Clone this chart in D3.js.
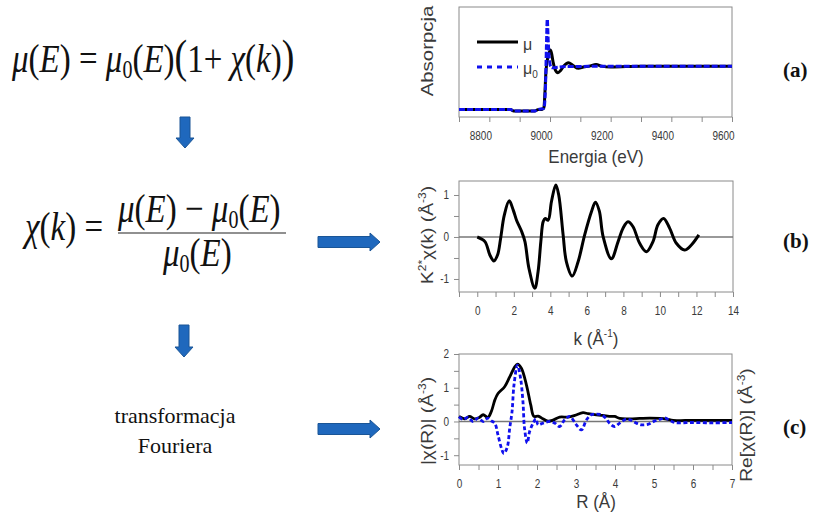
<!DOCTYPE html>
<html>
<head>
<meta charset="utf-8">
<script src="https://cdn.jsdelivr.net/npm/d3@7"></script>
<style>
  body { margin: 0; background: #fff; }
  svg text { font-family: "Liberation Sans", Arial, sans-serif; }
  .serif { font-family: "Liberation Serif", "Times New Roman", serif !important; }
</style>
</head>
<body>
<script>
// (a) absorption spectrum
const energy = [8700, 8800, 8870, 8880, 8950, 8960, 8975, 8980, 8983, 8986, 8989, 8993, 8997, 9001, 9005, 9010, 9017, 9026, 9035, 9045, 9061, 9075, 9094, 9110, 9130, 9152, 9170, 9200, 9300, 9400, 9500, 9600];
const muVals = [0, 0, 0, -0.03, -0.03, 0, 0.01, 0.05, 0.35, 0.8, 1.05, 1.2, 1.3, 1.37, 1.3, 1.1, 0.92, 0.85, 0.9, 1.0, 1.08, 1.02, 0.95, 0.98, 1.0, 1.04, 1.0, 0.98, 1.0, 1.0, 1.0, 1.0];
const energy0 = [8700, 8870, 8880, 8950, 8960, 8980, 8985, 8988, 8991, 8994, 8998, 9003, 9008, 9020, 9050, 9100, 9150, 9200, 9600];
const mu0Vals = [0, 0, -0.03, -0.03, 0, 0.03, 0.5, 1.4, 2.08, 1.6, 1.15, 0.98, 0.96, 0.97, 0.99, 0.99, 1.0, 1.0, 1.0];
const energyTicks = [8800, 9000, 9200, 9400, 9600];

// (b) EXAFS oscillations
const kVals = [0, 0.42, 0.69, 0.91, 1.11, 1.28, 1.48, 1.75, 1.97, 2.15, 2.43, 2.61, 2.83, 3.15, 3.33, 3.48, 3.61, 3.72, 3.88, 4.06, 4.3, 4.46, 4.7, 4.88, 5.2, 5.52, 5.88, 6.25, 6.47, 6.68, 6.89, 7.34, 7.71, 7.98, 8.25, 8.52, 8.89, 9.26, 9.62, 9.89, 10.2, 10.53, 10.9, 11.35, 11.72, 12.13];
const chiVals = [0, -0.11, -0.43, -0.57, -0.43, -0.03, 0.52, 0.86, 0.64, 0.40, 0.13, -0.11, -0.75, -1.22, -0.82, -0.11, 0.37, 0.44, 0.40, 0.84, 1.24, 1.0, 0.05, -0.59, -0.93, -0.59, 0.05, 0.6, 0.83, 0.62, 0.01, -0.52, -0.11, 0.21, 0.36, 0.25, -0.15, -0.35, -0.11, 0.29, 0.44, 0.21, -0.15, -0.31, -0.19, 0.05];
const kTicks = [0, 2, 4, 6, 8, 10, 12, 14];
const chiTicks = [-1, 0, 1];

// (c) Fourier transform
const rMag = [0, 0.15, 0.27, 0.4, 0.52, 0.62, 0.74, 0.83, 0.92, 1.0, 1.17, 1.3, 1.43, 1.5, 1.6, 1.73, 1.84, 1.92, 2.03, 2.15, 2.28, 2.41, 2.58, 2.8, 2.97, 3.18, 3.31, 3.48, 3.69, 3.85, 3.99, 4.12, 4.38, 4.63, 4.89, 5.15, 5.32, 5.49, 5.8, 6.2, 6.6, 7.0];
const magVals = [0.15, 0.08, 0.15, 0.08, 0.12, 0.20, 0.12, 0.30, 0.64, 0.83, 1.03, 1.32, 1.62, 1.70, 1.58, 1.08, 0.49, 0.15, 0.16, 0.08, 0.01, 0.04, 0.13, 0.13, 0.18, 0.26, 0.23, 0.20, 0.18, 0.15, 0.15, 0.09, 0.08, 0.09, 0.10, 0.09, 0.07, 0.03, 0.03, 0.03, 0.03, 0.03];
const rRe = [0, 0.1, 0.23, 0.36, 0.49, 0.62, 0.74, 0.83, 0.92, 1.0, 1.09, 1.15, 1.24, 1.30, 1.36, 1.41, 1.5, 1.58, 1.64, 1.68, 1.75, 1.81, 1.9, 1.97, 2.03, 2.15, 2.33, 2.46, 2.58, 2.71, 2.84, 3.01, 3.14, 3.27, 3.39, 3.52, 3.65, 3.76, 3.86, 3.99, 4.12, 4.29, 4.41, 4.55, 4.68, 4.86, 5.03, 5.2, 5.28, 5.41, 5.53, 6.0, 6.5, 7.0];
const reVals = [0.14, 0.06, 0.12, 0.0, 0.1, 0.0, 0.1, 0.02, -0.06, -0.4, -0.8, -0.95, -0.75, -0.2, 0.29, 1.08, 1.67, 1.27, 0.58, -0.2, -0.64, -0.3, -0.05, 0.08, -0.1, -0.05, 0.0, -0.05, -0.15, 0.05, 0.15, -0.1, -0.25, 0.05, 0.2, 0.22, 0.2, 0.1, -0.05, -0.15, -0.05, 0.07, 0.04, -0.05, -0.1, -0.08, 0.02, 0.08, 0.11, 0.03, -0.03, -0.03, -0.04, -0.03];
const rTicks = [0, 1, 2, 3, 4, 5, 6, 7];
const ftTicks = [-1, 0, 1, 2];

const W = 815, H = 515;
const frameColor = "#8a8a8a", labelColor = "#3a3a3a", blue = "#1010ee";
const arrowFill = "#1f68bd", arrowStroke = "#1a5596";
const stretch = 1.2; // the panel texts look taller than wide

const svg = d3.select("body").append("svg")
  .attr("width", W).attr("height", H);

// ---------- left column: equations and arrows ----------

function mathText(x, y, size, parts) {
  const t = svg.append("text").attr("class", "serif")
    .attr("transform", `translate(${x},${y}) scale(1,1.22)`)
    .attr("font-size", size).attr("fill", "#111");
  parts.forEach(p => {
    const s = t.append("tspan").text(p.t);
    if (p.i) s.attr("font-style", "italic");
    if (p.s) s.attr("font-size", p.s);
    if (p.dy) s.attr("dy", p.dy);
    if (p.dx) s.attr("dx", p.dx);
  });
  return t;
}

// mu(E) = mu0(E)(1 + chi(k))
mathText(12, 72, 33, [
  {t: "μ", i: 1}, {t: "("}, {t: "E", i: 1}, {t: ")"}, {t: " = "},
  {t: "μ", i: 1}, {t: "0", s: 20, dy: 5}, {t: "(", dy: -5}, {t: "E", i: 1}, {t: ")"},
  {t: "(", s: 38}, {t: "1"}, {t: "+ "}, {t: "χ", i: 1}, {t: "("}, {t: "k", i: 1}, {t: ")"}, {t: ")", s: 38}
]);

// chi(k) = (mu - mu0) / mu0
mathText(25, 240, 33, [{t: "χ", i: 1}, {t: "("}, {t: "k", i: 1}, {t: ")"}, {t: " ="}]);
mathText(118, 222, 33, [
  {t: "μ", i: 1}, {t: "("}, {t: "E", i: 1}, {t: ")"}, {t: " − "},
  {t: "μ", i: 1}, {t: "0", s: 20, dy: 5}, {t: "(", dy: -5}, {t: "E", i: 1}, {t: ")"}
]);
svg.append("line").attr("x1", 118).attr("x2", 286).attr("y1", 233).attr("y2", 233)
  .attr("stroke", "#222").attr("stroke-width", 1.2);
mathText(163, 266, 33, [
  {t: "μ", i: 1}, {t: "0", s: 20, dy: 5}, {t: "(", dy: -5}, {t: "E", i: 1}, {t: ")"}
]);

svg.append("text").attr("class", "serif")
  .attr("x", 175).attr("y", 423).attr("text-anchor", "middle")
  .attr("font-size", 22).attr("fill", "#111").text("transformacja");
svg.append("text").attr("class", "serif")
  .attr("x", 175).attr("y", 453).attr("text-anchor", "middle")
  .attr("font-size", 22).attr("fill", "#111").text("Fouriera");

function downArrow(cx, y0, y1) {
  const hw = 9, sw = 5, hy = y1 - 10;
  svg.append("path")
    .attr("d", `M${cx - sw},${y0}L${cx + sw},${y0}L${cx + sw},${hy}L${cx + hw},${hy}L${cx},${y1}L${cx - hw},${hy}L${cx - sw},${hy}Z`)
    .attr("fill", arrowFill).attr("stroke", arrowStroke).attr("stroke-width", 1);
}
function rightArrow(x0, x1, cy) {
  const hh = 9, sh = 5.5, hx = x1 - 10;
  svg.append("path")
    .attr("d", `M${x0},${cy - sh}L${hx},${cy - sh}L${hx},${cy - hh}L${x1},${cy}L${hx},${cy + hh}L${hx},${cy + sh}L${x0},${cy + sh}Z`)
    .attr("fill", arrowFill).attr("stroke", arrowStroke).attr("stroke-width", 1);
}
downArrow(185, 117, 148);
downArrow(184, 325, 357);
rightArrow(318, 380, 242);
rightArrow(318, 380, 429);

// ---------- right column: three panels ----------

function panelFrame(g, w, h) {
  g.append("rect").attr("width", w).attr("height", h)
    .attr("fill", "none").attr("stroke", frameColor).attr("stroke-width", 1);
}

function styleAxis(ax) {
  ax.select(".domain").remove();
  ax.selectAll(".tick line").attr("stroke", frameColor);
  ax.selectAll(".tick text").attr("fill", labelColor).attr("font-size", 10)
    .attr("font-family", "Liberation Sans, Arial, sans-serif")
    .attr("transform", `scale(1,${stretch})`);
}

// rotated axis title, stretched along its length
function yTitle(x, y, size) {
  return svg.append("text")
    .attr("transform", `translate(${x},${y}) rotate(-90) scale(${stretch},1)`)
    .attr("text-anchor", "middle").attr("font-size", size).attr("fill", labelColor);
}
function xTitle(x, y, size) {
  return svg.append("text")
    .attr("transform", `translate(${x},${y}) scale(1,1.1)`)
    .attr("text-anchor", "middle").attr("font-size", size).attr("fill", labelColor);
}
function sup(t, s) {
  t.append("tspan").attr("font-size", 10).attr("dy", -7).text(s);
}

function panelTag(y, tag) {
  svg.append("text").attr("class", "serif")
    .attr("x", 783).attr("y", y).attr("font-size", 21).attr("font-weight", "bold")
    .attr("fill", "#111").text(tag);
}

// (a)
const A = {left: 459, top: 7, w: 273, h: 110};
const gA = svg.append("g").attr("transform", `translate(${A.left},${A.top})`);
const xA = d3.scaleLinear().domain([8700, 9600]).range([0, A.w]);
const yA = d3.scaleLinear().domain([-0.17, 2.36]).range([A.h, 0]);
panelFrame(gA, A.w, A.h);
const axA = gA.append("g").attr("transform", `translate(0,${A.h})`)
  .call(d3.axisBottom(xA).tickValues(d3.range(8700, 9601, 100)).tickSize(5).tickPadding(7)
    .tickFormat(d => energyTicks.includes(d) ? d : ""));
styleAxis(axA);
axA.selectAll(".tick text").attr("dx", -9);

const lineA = d3.line().x(d => xA(d[0])).y(d => yA(d[1])).curve(d3.curveMonotoneX);
gA.append("path").datum(d3.zip(energy, muVals)).attr("d", lineA)
  .attr("fill", "none").attr("stroke", "#000").attr("stroke-width", 3);
gA.append("path").datum(d3.zip(energy0, mu0Vals)).attr("d", lineA)
  .attr("fill", "none").attr("stroke", blue).attr("stroke-width", 3)
  .attr("stroke-dasharray", "6,2");

// legend (a)
gA.append("line").attr("x1", 18).attr("x2", 59).attr("y1", 35).attr("y2", 35)
  .attr("stroke", "#000").attr("stroke-width", 3);
gA.append("text").attr("x", 64).attr("y", 43).attr("font-size", 16).attr("fill", labelColor).text("μ");
gA.append("line").attr("x1", 18).attr("x2", 59).attr("y1", 60).attr("y2", 60)
  .attr("stroke", blue).attr("stroke-width", 3).attr("stroke-dasharray", "5,5");
const l0 = gA.append("text").attr("x", 64).attr("y", 67).attr("font-size", 16).attr("fill", labelColor);
l0.append("tspan").text("μ");
l0.append("tspan").attr("font-size", 10).attr("dy", 4).text("0");

yTitle(433, 51, 17).text("Absorpcja");
xTitle(596, 163, 17).text("Energia (eV)");
panelTag(77, "(a)");

// (b)
const B = {left: 459, top: 181, w: 274, h: 111};
const gB = svg.append("g").attr("transform", `translate(${B.left},${B.top})`);
const xB = d3.scaleLinear().domain([-1, 14]).range([0, B.w]);
const yB = d3.scaleLinear().domain([-1.31, 1.333]).range([B.h, 0]);
panelFrame(gB, B.w, B.h);
const axBx = gB.append("g").attr("transform", `translate(0,${B.h})`)
  .call(d3.axisBottom(xB).tickValues(d3.range(-1, 14.1, 1)).tickSize(5).tickPadding(7)
    .tickFormat(d => kTicks.includes(d) ? d : ""));
styleAxis(axBx);
const axBy = gB.append("g")
  .call(d3.axisLeft(yB).tickValues(d3.range(-1, 1.01, 0.5)).tickSize(5).tickPadding(5)
    .tickFormat(d => chiTicks.includes(d) ? d : ""));
styleAxis(axBy);
gB.append("line").attr("x1", 0).attr("x2", B.w).attr("y1", yB(0)).attr("y2", yB(0))
  .attr("stroke", "#777").attr("stroke-width", 1.3);
const lineB = d3.line().x(d => xB(d[0])).y(d => yB(d[1])).curve(d3.curveCatmullRom.alpha(0.5));
gB.append("path").datum(d3.zip(kVals, chiVals)).attr("d", lineB)
  .attr("fill", "none").attr("stroke", "#000").attr("stroke-width", 3);

const tB = yTitle(433, 235, 16);
tB.append("tspan").text("K");
sup(tB, "2*");
tB.append("tspan").attr("dy", 7).text("χ(k)   (Å");
sup(tB, "-3");
tB.append("tspan").attr("dy", 7).text(")");
const tBx = xTitle(596, 345, 17);
tBx.append("tspan").text("k (Å");
sup(tBx, "-1");
tBx.append("tspan").attr("dy", 7).text(")");
panelTag(248, "(b)");

// (c)
const C = {left: 459, top: 354, w: 273, h: 111};
const gC = svg.append("g").attr("transform", `translate(${C.left},${C.top})`);
const xC = d3.scaleLinear().domain([0, 7]).range([0, C.w]);
const yC = d3.scaleLinear().domain([-1.29, 2]).range([C.h, 0]);
panelFrame(gC, C.w, C.h);
const axCx = gC.append("g").attr("transform", `translate(0,${C.h})`)
  .call(d3.axisBottom(xC).tickValues(d3.range(0, 7.01, 0.5)).tickSize(5).tickPadding(7)
    .tickFormat(d => rTicks.includes(d) ? d : ""));
styleAxis(axCx);
const axCy = gC.append("g")
  .call(d3.axisLeft(yC).tickValues(d3.range(-1, 2.01, 0.5)).tickSize(5).tickPadding(5)
    .tickFormat(d => ftTicks.includes(d) ? d : ""));
styleAxis(axCy);
gC.append("line").attr("x1", 0).attr("x2", C.w).attr("y1", yC(0)).attr("y2", yC(0))
  .attr("stroke", "#777").attr("stroke-width", 1.3);
const lineC = d3.line().x(d => xC(d[0])).y(d => yC(d[1])).curve(d3.curveCatmullRom.alpha(0.5));
gC.append("path").datum(d3.zip(rMag, magVals)).attr("d", lineC)
  .attr("fill", "none").attr("stroke", "#000").attr("stroke-width", 2.8);
gC.append("path").datum(d3.zip(rRe, reVals)).attr("d", lineC)
  .attr("fill", "none").attr("stroke", blue).attr("stroke-width", 2.8)
  .attr("stroke-dasharray", "4,2.5");

const tCl = yTitle(433, 421, 16);
tCl.append("tspan").text("|χ(R)| (Å");
sup(tCl, "-3");
tCl.append("tspan").attr("dy", 7).text(")");
const tCr = yTitle(752, 425, 16);
tCr.append("tspan").text("Re[χ(R)] (Å");
sup(tCr, "-3");
tCr.append("tspan").attr("dy", 7).text(")");
xTitle(596, 508, 17).text("R (Å)");
panelTag(434, "(c)");
</script>
</body>
</html>
